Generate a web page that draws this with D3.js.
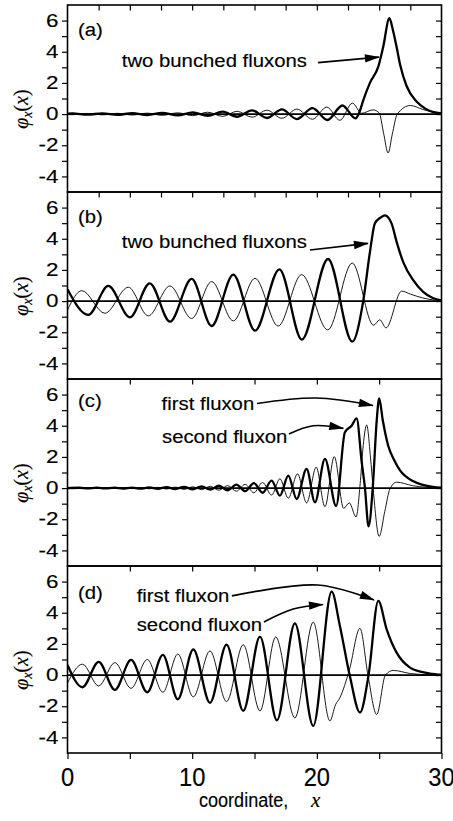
<!DOCTYPE html>
<html><head><meta charset="utf-8">
<script src="https://cdn.jsdelivr.net/npm/d3@7"></script>
<style>body{margin:0;background:#fff}svg{display:block}text{stroke:#000;stroke-width:0.15px}</style>
</head><body>
<svg id="c" width="453" height="821"></svg>
<script>
// ---------- data ----------
const xTickLabels = [0, 10, 20, 30];
const yTickLabels = [-4, -2, 0, 2, 4, 6];
const panelLabels = ["(a)", "(b)", "(c)", "(d)"];

const aThick = [[0,0.03],[0.4,0.04],[1.6,-0.04],[2.8,0.05],[4.0,-0.05],[5.2,0.06],[6.4,-0.06],[7.6,0.08],[8.85,-0.08],[10.05,0.11],[11.25,-0.11],[12.45,0.16],[13.6,-0.17],[14.8,0.24],[16.0,-0.25],[17.2,0.3],[18.4,-0.32],[19.65,0.38],[20.85,-0.38],[22.05,0.55],[23.1,-0.28],[23.45,0.2],[23.73,0.9],[24.26,2.0],[24.93,3.05],[25.32,4.3],[25.82,6.15],[26.1,5.4],[26.4,4.3],[26.7,3.1],[27.2,1.8],[28.0,0.8],[28.7,0.35],[29.3,0.14],[30,0.04]];
const aThin = [[0,-0.03],[0.4,-0.04],[1.6,0.04],[2.8,-0.05],[4.0,0.05],[5.2,-0.06],[6.4,0.06],[7.6,-0.08],[8.85,0.08],[10.05,-0.1],[11.25,0.12],[12.45,-0.15],[13.6,0.18],[14.8,-0.2],[16.0,0.25],[17.2,-0.27],[18.4,0.32],[19.65,-0.33],[20.8,0.45],[21.85,-0.4],[22.85,0.7],[23.6,0.05],[24.5,0.27],[25.0,0.08],[25.35,-1.2],[25.72,-2.5],[26.05,-1.3],[26.45,0.0],[27.5,0.55],[28.5,0.3],[29.3,0.12],[30,0.04]];

const bThick = [[0,0.76],[1.67,-0.89],[3.27,0.97],[5.01,-1.04],[6.6,1.14],[8.22,-1.32],[9.96,1.42],[11.56,-1.6],[13.3,1.7],[15.04,-1.9],[17.0,2.04],[18.8,-2.47],[20.9,2.7],[22.84,-2.6],[23.72,0],[24.26,3.15],[24.66,5.0],[25.1,5.35],[25.46,5.5],[26.0,4.97],[26.4,3.8],[26.93,2.5],[27.73,1.34],[28.53,0.59],[29.3,0.2],[30,0.05]];
const bThin = [[0,-0.57],[1.14,0.67],[3.0,-0.78],[4.88,0.89],[6.48,-0.95],[8.22,0.97],[9.96,-1.12],[11.56,1.25],[13.3,-1.27],[15.04,1.46],[16.9,-1.6],[18.78,1.7],[20.88,-1.85],[22.84,2.44],[24.55,-1.55],[25.05,-1.2],[25.55,-1.72],[26.8,0.64],[27.5,0.45],[28.5,0.2],[29.3,0.08],[30,0.02]];

const cThick = [[0,0],[0.95,0.02],[1.65,-0.02],[2.35,0.025],[3.05,-0.025],[3.75,0.03],[4.45,-0.03],[5.15,0.035],[5.85,-0.035],[6.55,0.045],[7.25,-0.045],[7.95,0.06],[8.65,-0.06],[9.35,0.08],[10.05,-0.08],[10.75,0.11],[11.45,-0.1],[12.15,0.15],[12.85,-0.14],[13.55,0.22],[14.25,-0.2],[14.95,0.32],[15.65,-0.3],[16.37,0.48],[17.04,-0.49],[17.71,0.8],[18.38,-0.7],[19.18,1.23],[19.85,-0.91],[20.65,1.87],[21.55,-1.15],[22.25,3.58],[22.79,4.0],[23.19,4.47],[23.6,1.66],[23.86,0],[24.15,-2.45],[24.5,0.2],[24.8,4.3],[25.0,5.75],[25.3,4.3],[25.73,2.7],[26.2,1.8],[26.66,1.15],[27.7,0.45],[28.5,0.2],[29.3,0.07],[30,0.02]];
const cThin = [[0,0],[0.95,-0.02],[1.65,0.02],[2.35,-0.025],[3.05,0.025],[3.75,-0.03],[4.45,0.03],[5.15,-0.035],[5.85,0.035],[6.55,-0.045],[7.25,0.045],[7.95,-0.06],[8.65,0.06],[9.35,-0.08],[10.05,0.08],[10.75,-0.1],[11.45,0.11],[12.15,-0.14],[12.85,0.16],[13.55,-0.2],[14.25,0.24],[14.95,-0.3],[15.65,0.36],[16.37,-0.45],[17.04,0.6],[17.71,-0.65],[18.45,0.91],[19.18,-0.95],[19.95,1.34],[20.65,-1.2],[21.4,2.02],[22.15,-1.3],[22.6,-0.95],[23.15,-1.85],[23.5,0.5],[23.72,2.73],[24.0,4.05],[24.3,2.0],[24.52,-0.06],[25.0,-3.1],[25.45,-1.5],[25.86,-0.06],[26.4,0.38],[27.7,0.15],[28.8,0.05],[30,0.01]];

const dThick = [[0,0.65],[1.2,-0.78],[2.5,0.85],[3.8,-0.95],[5.1,0.97],[6.4,-1.1],[7.65,1.3],[8.85,-1.55],[10.09,1.65],[11.43,-1.78],[12.76,1.95],[14.1,-2.3],[15.44,2.47],[16.8,-2.9],[18.24,3.32],[19.71,-3.26],[21.19,5.35],[21.85,3.15],[22.65,-0.06],[23.46,-2.4],[24.15,0],[24.93,4.76],[25.6,2.94],[26.4,1.44],[27.47,0.48],[28.3,0.22],[29.07,0.1],[30,0.02]];
const dThin = [[0,-0.5],[1.2,0.7],[2.5,-0.7],[3.8,0.8],[5.1,-0.85],[6.4,1.0],[7.65,-1.1],[8.85,1.35],[10.09,-1.4],[11.43,1.55],[12.76,-1.7],[14.1,1.95],[15.44,-2.3],[16.7,2.45],[18.24,-2.75],[19.71,3.4],[21.05,-2.94],[21.5,-1.9],[21.85,-1.45],[22.6,0.3],[23.46,3.0],[24.1,0],[24.8,-2.53],[25.5,0],[26.13,0.3],[27.5,0.1],[29,0.02],[30,0.01]];

// annotation texts and arrows (data coordinates of each panel)
const notes = [
  [{t:"two bunched fluxons", x:4.35, y:3.04}],
  [{t:"two bunched fluxons", x:4.35, y:3.43}],
  [{t:"first fluxon", x:7.55, y:5.01}, {t:"second fluxon", x:7.58, y:2.91}],
  [{t:"first fluxon", x:5.55, y:4.69}, {t:"second fluxon", x:5.55, y:2.83}]
];
const arrows = [
  [[[20.09,3.30],[24.98,3.66]]],
  [[[19.45,3.28],[24.1,3.70]]],
  [[[15.2,5.43],[19.93,5.78],[24.5,5.3]], [[17.76,3.47],[19.71,4.0],[22.12,3.83]]],
  [[[13.19,5.08],[20.09,5.78],[24.58,4.82]], [[15.76,3.41],[18.1,4.24],[20.49,4.53]]]
];
const series = [[aThick,aThin],[bThick,bThin],[cThick,cThin],[dThick,dThin]];

// ---------- layout ----------
const L = 67.5, R = 441.5, T0 = 5, PH = 187;
const svg = d3.select("#c");
const x = d3.scaleLinear().domain([0,30]).range([L,R]);
const SANS = "'Liberation Sans', Arial, Helvetica, sans-serif";
const SERIF = "'Liberation Serif', 'Times New Roman', serif";

const defs = svg.append("defs");
defs.append("marker").attr("id","ah").attr("markerUnits","userSpaceOnUse")
  .attr("viewBox","-15 -5 17 10").attr("refX",0).attr("refY",0)
  .attr("markerWidth",17).attr("markerHeight",10).attr("orient","auto")
  .append("path").attr("d","M1,0 L-14,-4.2 L-14,4.2 Z").attr("fill","#000");

function sText(g, str, px, py, size, sx, anchor, family) {
  return g.append("text").attr("transform",`translate(${px},${py}) scale(${sx},1)`)
    .attr("font-size",size).attr("font-family",family||SANS)
    .attr("text-anchor",anchor||"start").attr("fill","#000").text(str);
}

series.forEach((pair, i) => {
  const top = T0 + i*PH;
  const y = d3.scaleLinear().domain([-5,7]).range([top+PH, top]);
  const g = svg.append("g");
  const cid = "clip"+i;
  defs.append("clipPath").attr("id",cid).append("rect")
    .attr("x",L).attr("y",top).attr("width",R-L).attr("height",PH);

  // zero line
  g.append("line").attr("x1",L).attr("x2",R).attr("y1",y(0)).attr("y2",y(0))
    .attr("stroke","#000").attr("stroke-width",1.7);

  const line = d3.line().x(d=>x(d[0])).y(d=>y(d[1])).curve(d3.curveMonotoneX);
  const cg = g.append("g").attr("clip-path",`url(#${cid})`);
  cg.append("path").attr("d",line(pair[1])).attr("fill","none").attr("stroke","#000").attr("stroke-width",0.9);
  cg.append("path").attr("d",line(pair[0])).attr("fill","none").attr("stroke","#000").attr("stroke-width",2.3).attr("stroke-linejoin","round");

  // left axis
  const ax = g.append("g").attr("transform",`translate(${L},0)`)
    .call(d3.axisLeft(y).tickValues(d3.range(-4,7)).tickSize(5.5).tickPadding(3.5)
      .tickFormat(d => yTickLabels.includes(d) ? String(d) : ""));
  ax.select(".domain").remove();
  ax.selectAll("line").attr("stroke-width",1.2);
  ax.selectAll("text").each(function(){
    const t = d3.select(this); const tx = +t.attr("x");
    t.attr("x",0).attr("transform",`translate(${tx},0) scale(1.28,1)`)
     .attr("font-size",17.5).attr("font-family",SANS).attr("fill","#000");
  });
  // right axis
  const ar = g.append("g").attr("transform",`translate(${R},0)`)
    .call(d3.axisRight(y).tickValues(d3.range(-4,7)).tickSize(-5.5).tickFormat(""));
  ar.select(".domain").remove(); ar.selectAll("line").attr("stroke-width",1.2);
  // top axis
  const topVals = i < 2 ? d3.range(2.5,30,2.5) : d3.range(5,30,5);
  const at = g.append("g").attr("transform",`translate(0,${top})`)
    .call(d3.axisTop(x).tickValues(topVals).tickSize(-5.5).tickFormat(""));
  at.select(".domain").remove(); at.selectAll("line").attr("stroke-width",1.2);

  // frame
  g.append("rect").attr("x",L).attr("y",top).attr("width",R-L).attr("height",PH)
    .attr("fill","none").attr("stroke","#000").attr("stroke-width",1.6);

  // panel label
  sText(g, panelLabels[i], x(0.84), y(i===2?5.2:(i===3?4.88:5.01)), 18, 1.13);
  // notes
  notes[i].forEach(n => sText(g, n.t, x(n.x), y(n.y), 18, 1.13));
  // arrows
  const aline = d3.line().x(d=>x(d[0])).y(d=>y(d[1])).curve(d3.curveCatmullRom.alpha(0.5));
  arrows[i].forEach(a => g.append("path").attr("d",aline(a)).attr("fill","none")
    .attr("stroke","#000").attr("stroke-width",1.7).attr("marker-end","url(#ah)"));

  // y title
  const ty = y(0) - 5;
  const tt = g.append("text").attr("transform",`translate(28,${ty}) rotate(-90)`)
    .attr("text-anchor","middle").attr("font-family",SERIF).attr("font-size",20).attr("fill","#000");
  tt.append("tspan").attr("font-style","italic").text("φ");
  tt.append("tspan").attr("font-style","italic").attr("font-size",14).attr("dy",4).text("x");
  tt.append("tspan").attr("dy",-4).text("(");
  tt.append("tspan").attr("font-style","italic").text("x");
  tt.append("tspan").text(")");

  if (i === 3) {
    const bottom = top + PH;
    const ab = g.append("g").attr("transform",`translate(0,${bottom})`)
      .call(d3.axisBottom(x).tickValues(d3.range(0,31,5)).tickSize(6).tickFormat(""));
    ab.select(".domain").remove(); ab.selectAll("line").attr("stroke-width",1.2);
    xTickLabels.forEach(v => sText(g, String(v), x(v), 785.5, 25.5, 0.93, "middle"));
    sText(g, "coordinate,", 199, 807, 21, 0.86, "start");
    g.append("text").attr("x",311).attr("y",807).attr("font-family",SERIF)
      .attr("font-style","italic").attr("font-size",21).attr("fill","#000").text("x");
  }
});
</script>
</body></html>
